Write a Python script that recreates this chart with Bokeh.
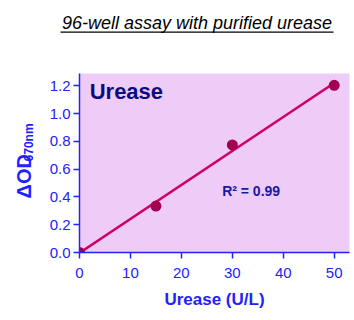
import numpy as np
from bokeh.plotting import figure
from bokeh.layouts import column, row
from bokeh.models import Label, Range1d, FixedTicker, CustomJSTickFormatter
from bokeh.embed import file_html
from bokeh.resources import INLINE

# data
urease = [0, 15, 30, 50]
delta_od = [0.0, 0.335, 0.775, 1.205]
x_ticks = [0, 10, 20, 30, 40, 50]
y_ticks = [0.0, 0.2, 0.4, 0.6, 0.8, 1.0, 1.2]
title_text = "96-well assay with purified urease"
x_label = "Urease (U/L)"
y_label_main = "ΔOD"
y_label_sub = "670nm"
inset_label = "Urease"
r2_text = "R² = 0.99"

slope, intercept = np.polyfit(urease, delta_od, 1)
fit_x = [0, 50]
fit_y = [intercept + slope * v for v in fit_x]

BLUE = "#2222ff"
FONT = "Liberation Sans"
TITLE_H = 50
YLAB_W = 42
W, H = 354, 320


def blank(width, height):
    f = figure(width=width, height=height, output_backend="svg", toolbar_location=None,
               x_range=Range1d(0, width), y_range=Range1d(0, height),
               x_axis_location=None, y_axis_location=None,
               min_border=0, min_border_left=0, min_border_right=0,
               min_border_top=0, min_border_bottom=0)
    f.grid.visible = False
    f.outline_line_color = None
    f.background_fill_color = "white"
    f.border_fill_color = "white"
    return f


# title strip (underlined italic heading); y measured from the strip's bottom
t = blank(W, TITLE_H)
t.add_layout(Label(x=196.5, y=TITLE_H - 32.8, text=title_text, text_font=FONT,
                   text_font_style="italic", text_font_size="18px", text_color="black",
                   text_align="center", text_baseline="bottom"))
t.segment(x0=[60], y0=[TITLE_H - 31.7], x1=[333], y1=[TITLE_H - 31.7],
          line_color="black", line_width=1.3)

# y-axis label strip (rotated, with subscript)
YL_H = H - TITLE_H
yl = blank(YLAB_W, YL_H)
yl.add_layout(Label(x=34, y=YL_H - (205 - TITLE_H), text=y_label_main, angle=np.pi / 2,
                    text_font=FONT, text_font_style="bold", text_font_size="20px",
                    text_color=BLUE, text_align="center", text_baseline="bottom"))
yl.add_layout(Label(x=35.5, y=YL_H - (154 - TITLE_H), text=y_label_sub, angle=np.pi / 2,
                    text_font=FONT, text_font_style="bold", text_font_size="12px",
                    text_color=BLUE, text_align="center", text_baseline="bottom"))

# main plot
p = figure(width=W - YLAB_W, height=YL_H, output_backend="svg", toolbar_location=None,
           x_range=Range1d(0, 53), y_range=Range1d(0, 1.29),
           min_border_left=79 - YLAB_W, min_border_right=5,
           min_border_top=73 - TITLE_H, min_border_bottom=68)
p.background_fill_color = "#efcbf7"
p.border_fill_color = "white"
p.outline_line_color = None
p.grid.visible = False

for ax in (p.xaxis[0], p.yaxis[0]):
    ax.axis_line_color = BLUE
    ax.axis_line_width = 1.5
    ax.major_tick_line_color = BLUE
    ax.major_tick_line_width = 1.5
    ax.major_tick_out = 6
    ax.major_tick_in = 0
    ax.minor_tick_line_color = None
    ax.major_label_text_color = BLUE
    ax.major_label_text_font = FONT
    ax.major_label_text_font_size = "15px"
p.xaxis[0].ticker = FixedTicker(ticks=x_ticks)
p.yaxis[0].ticker = FixedTicker(ticks=y_ticks)
p.yaxis[0].formatter = CustomJSTickFormatter(code="return tick.toFixed(1);")
p.xaxis[0].major_label_standoff = 9
p.yaxis[0].major_label_standoff = 3

p.xaxis[0].axis_label = x_label
p.xaxis[0].axis_label_text_color = BLUE
p.xaxis[0].axis_label_text_font = FONT
p.xaxis[0].axis_label_text_font_style = "bold"
p.xaxis[0].axis_label_text_font_size = "17px"
p.xaxis[0].axis_label_standoff = 9

p.line(fit_x, fit_y, line_color="#cc0066", line_width=2.5)
p.scatter(urease, delta_od, size=11, fill_color="#a0004f", line_color=None)

p.add_layout(Label(x=2, y=1.07, text=inset_label, text_font=FONT,
                   text_font_style="bold", text_font_size="22px", text_color="#0b0b80",
                   text_baseline="bottom"))
p.add_layout(Label(x=28, y=0.387, text=r2_text, text_font=FONT,
                   text_font_style="bold", text_font_size="14px", text_color="#1a1aa0",
                   text_baseline="bottom"))

layout = column(t, row(yl, p, spacing=0), spacing=0)
open("out.html", "w").write(file_html(layout, INLINE))
